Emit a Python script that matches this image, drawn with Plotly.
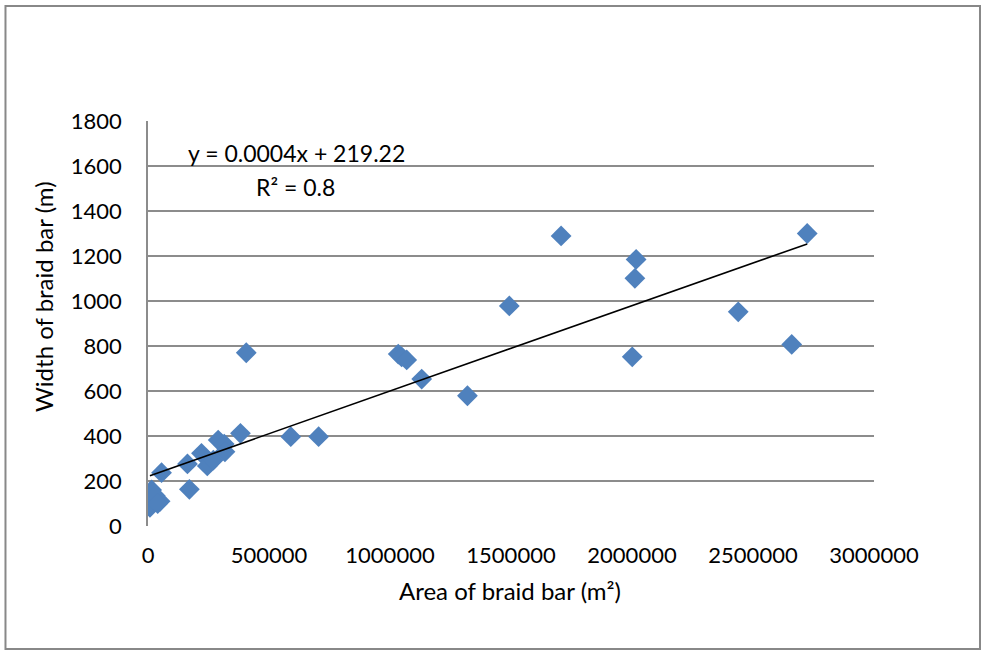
import numpy as np
import plotly.graph_objects as go

# Data
area_m2 = [2724000, 1707000, 2017000, 2012000, 1493000, 2439000, 2660000, 2001000,
           406000, 1034000, 1048000, 1069000, 1131000, 1320000,
           382000, 590000, 705000, 290000, 315000, 318000, 221000, 245000, 270000,
           163000, 56000, 171000,
           8000, 50000, 15000, 30000, 40000]
width_m = [1300, 1289, 1185, 1101, 978, 952, 807, 752,
           770, 764, 752, 738, 653, 579,
           412, 397, 397, 382, 364, 330, 323, 267, 293,
           276, 237, 163,
           83, 110, 160, 135, 100]

x_ticks = [0, 500000, 1000000, 1500000, 2000000, 2500000, 3000000]
y_ticks = [0, 200, 400, 600, 800, 1000, 1200, 1400, 1600, 1800]

eq_text = "y = 0.0004x + 219.22"
r2_text = "R² = 0.8"
x_title = "Area of braid bar (m²)"
y_title = "Width of braid bar (m)"

# Linear trend line fitted to the data
xa = np.array(area_m2, dtype=float)
ya = np.array(width_m, dtype=float)
slope, intercept = np.polyfit(xa, ya, 1)
trend_x = [xa.min(), xa.max()]
trend_y = [slope * v + intercept for v in trend_x]

FONT = "Lato, 'Open Sans', sans-serif"
GRID = "#8c8c8c"

fig = go.Figure()
fig.add_trace(go.Scatter(
    x=area_m2, y=width_m, mode="markers",
    marker=dict(symbol="diamond", size=16, color="#4F81BD", line=dict(width=0)),
    showlegend=False, hoverinfo="x+y",
))
fig.add_trace(go.Scatter(
    x=trend_x, y=trend_y, mode="lines",
    line=dict(color="black", width=1.6),
    showlegend=False, hoverinfo="skip",
))

fig.update_layout(
    width=982, height=651,
    margin=dict(l=148, r=108, t=121, b=125),
    paper_bgcolor="white", plot_bgcolor="white",
    font=dict(family=FONT, size=22, color="#000000"),
    xaxis=dict(
        range=[0, 3000000], tickvals=x_ticks, ticktext=[str(v) for v in x_ticks],
        showgrid=False, zeroline=False, showline=False, ticks="",
        ticklabelstandoff=14,
        tickfont=dict(size=22),
    ),
    yaxis=dict(
        range=[0, 1800], tickvals=y_ticks, ticktext=[str(v) for v in y_ticks],
        showgrid=True, gridcolor=GRID, gridwidth=1.5,
        zeroline=False, showline=True, linecolor=GRID, linewidth=1.5, ticks="",
        ticklabelstandoff=20,
        tickfont=dict(size=22),
    ),
    annotations=[
        dict(text=eq_text, xref="paper", yref="paper", x=0.2052, y=0.921,
             showarrow=False, xanchor="center", yanchor="middle",
             font=dict(family=FONT, size=23, color="#000")),
        dict(text=r2_text, xref="paper", yref="paper", x=0.2025, y=0.837,
             showarrow=False, xanchor="center", yanchor="middle",
             font=dict(family=FONT, size=23, color="#000")),
        dict(text=x_title, xref="paper", yref="paper", x=0.4986, y=-0.16,
             showarrow=False, xanchor="center", yanchor="middle",
             font=dict(family=FONT, size=24, color="#000")),
        dict(text=y_title, xref="paper", yref="paper", x=-0.1433, y=0.568,
             showarrow=False, xanchor="center", yanchor="middle", textangle=-90,
             font=dict(family=FONT, size=24, color="#000")),
    ],
    shapes=[
        dict(type="rect", xref="paper", yref="paper",
             x0=-0.1963, x1=1.146, y0=-0.3037, y1=1.284,
             line=dict(color="#888888", width=2), fillcolor="rgba(0,0,0,0)", layer="below"),
    ],
)

fig.write_html("out.html", config={"displayModeBar": False},
               post_script="document.body.style.margin='0';document.body.style.overflow='hidden';")
